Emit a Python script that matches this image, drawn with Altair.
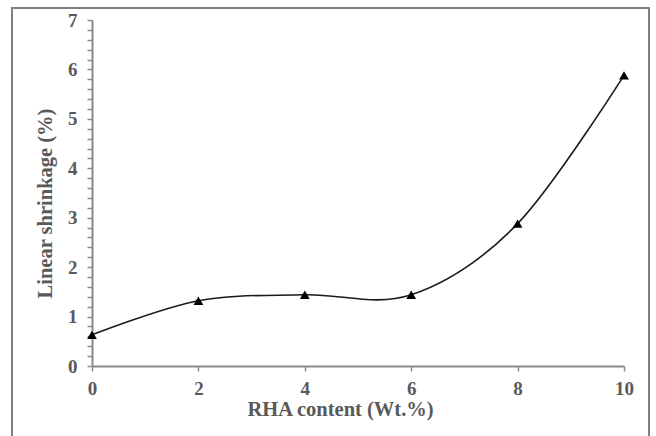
import altair as alt
import pandas as pd

rha = [0, 2, 4, 6, 8, 10]
shrinkage = [0.63, 1.32, 1.44, 1.44, 2.88, 5.88]
x_ticks = [0, 2, 4, 6, 8, 10]
y_ticks = [round(i * 0.2, 1) for i in range(36)]

df = pd.DataFrame({"rha": rha, "shrink": shrinkage})

FONT = "Liberation Serif"
AX_COLOR = "#8a8a8a"
TXT = "#595959"

x_enc = alt.X(
    "rha:Q",
    scale=alt.Scale(domain=[0, 10], nice=False, zero=False),
    axis=alt.Axis(
        title="RHA content (Wt.%)",
        values=x_ticks,
        tickCount=20,
        format="d",
        labelFlush=False,
        grid=False,
        domainColor=AX_COLOR,
        domainWidth=2,
        tickColor=AX_COLOR,
        tickSize=5,
        tickWidth=1.5,
        labelFont=FONT,
        labelFontSize=19,
        labelFontWeight="bold",
        labelColor=TXT,
        labelPadding=8,
        titleFont=FONT,
        titleFontSize=20.5,
        titleFontWeight="bold",
        titleColor=TXT,
        titleX=248,
        titleY=33,
        titleAlign="center",
    ),
)

y_enc = alt.Y(
    "shrink:Q",
    scale=alt.Scale(domain=[0, 7], nice=False),
    axis=alt.Axis(
        title="Linear shrinkage (%)",
        values=y_ticks,
        tickCount=100,
        labelExpr="abs(datum.value - round(datum.value)) < 0.01 ? format(datum.value, 'd') : ''",
        labelOverlap=False,
        labelFlush=False,
        grid=False,
        domainColor=AX_COLOR,
        domainWidth=2,
        tickColor=AX_COLOR,
        tickSize=5,
        tickWidth=1.5,
        labelFont=FONT,
        labelFontSize=19,
        labelFontWeight="bold",
        labelColor=TXT,
        labelPadding=10,
        titleFont=FONT,
        titleFontSize=20.5,
        titleFontWeight="bold",
        titleColor=TXT,
        titleAngle=-90,
        titleX=-47,
        titleY=183,
        titleAlign="center",
        titleBaseline="middle",
    ),
)

border = alt.Chart(pd.DataFrame({"a": [0]})).mark_rect(
    fill=None, stroke="#7f7f7f", strokeWidth=2
).encode(
    x=alt.value(-80), x2=alt.value(557), y=alt.value(-12), y2=alt.value(440)
)

line = alt.Chart(df).mark_line(
    interpolate="cardinal", color="#1a1a1a", strokeWidth=1.6
).encode(x=x_enc, y=y_enc)

pts = alt.Chart(df).mark_point(
    shape="triangle-up", filled=True, color="#000000", size=95, opacity=1
).encode(x="rha:Q", y="shrink:Q")

chart = alt.layer(border, line, pts).properties(
    width=532,
    height=346,
    autosize=alt.AutoSizeParams(type="none"),
    padding={"left": 92, "top": 20, "right": 32, "bottom": 70},
    background="white",
).configure_view(stroke=None)

chart.save("out.html", embed_options={"renderer": "svg", "actions": False})
